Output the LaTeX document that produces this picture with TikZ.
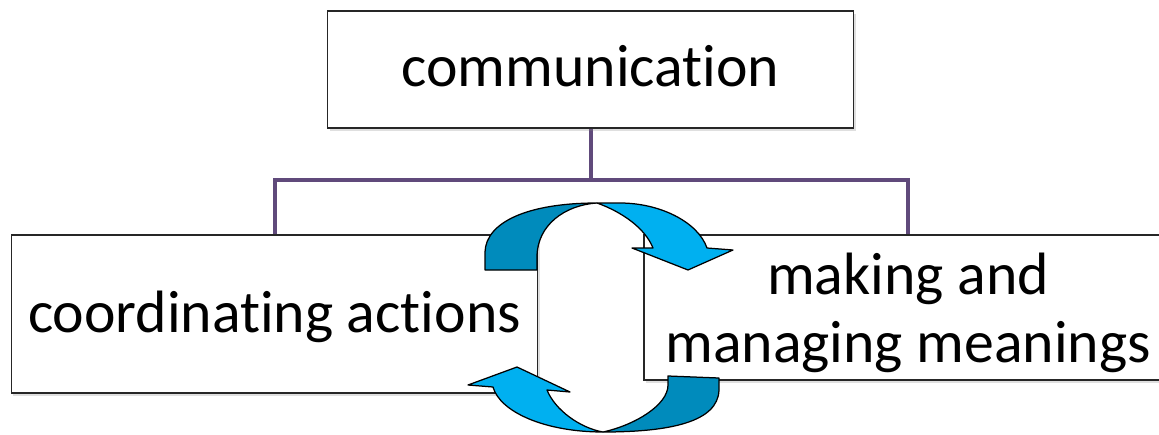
\documentclass[tikz,border=0pt]{standalone}
\usepackage{fontspec}
\setmainfont[Ligatures=NoCommon]{Carlito}
\usepackage{tikz}
\usetikzlibrary{shadows}
\pgfdeclarelayer{edgelayer}
\pgfdeclarelayer{nodelayer}
\pgfsetlayers{edgelayer,nodelayer,main}
\definecolor{linkpurple}{RGB}{96,74,123}
\definecolor{cyclefront}{RGB}{0,176,240}
\definecolor{cycleback}{RGB}{0,139,188}
\tikzstyle{box}=[rectangle, draw=black!85, fill=white, line width=0.3mm, inner sep=0pt, text depth=0pt, font=\fontsize{34}{38.7}\selectfont, drop shadow={shadow xshift=0.4mm, shadow yshift=-0.6mm, opacity=0.25}]
\tikzstyle{link}=[-, draw=linkpurple, line width=0.8mm]
\tikzstyle{backband}=[fill=cycleback, draw=black, line width=0.25mm, line join=round]
\tikzstyle{frontband}=[fill=cyclefront, draw=black, line width=0.25mm, line join=round]

\begin{document}
\begin{tikzpicture}[x=0.2mm, y=-0.2mm]
            \clip (0, 0) rectangle (1159, 435);
            \begin{pgfonlayer}{nodelayer}
                \node [style=box, minimum width=105.2mm, minimum height=23.4mm, text height=6.6mm] (comm) at (590.5, 69.5) {communication};
                \node [style=box, minimum width=105.2mm, minimum height=31.6mm, text height=7.5mm] (coord) at (274.5, 314) {coordinating actions};
                \node [style=box, minimum width=105.6mm, minimum height=29mm, align=center] (mean) at (908, 307.5) {making and\\managing meanings};
                \coordinate (fork) at (590.5, 180);
            \end{pgfonlayer}
            \begin{pgfonlayer}{edgelayer}
                \draw [style=link] (comm.south) -- (fork);
                \draw [style=link] (coord.north) |- (fork) -| (mean.north);
            \end{pgfonlayer}

            % upper loop arrow
            \draw [style=backband] (485, 270) -- (485, 252) .. controls (486, 222) and (528, 203) .. (597, 203)
                .. controls (565, 205) and (537, 225) .. (537, 257) -- (537, 270) -- cycle;
            \draw [style=frontband] (597, 203) -- (620, 203) .. controls (660, 203) and (698, 222) .. (707, 248)
                -- (733, 250) -- (688, 270) -- (632, 248) -- (653, 248)
                .. controls (645, 228) and (622, 212) .. (597, 203) -- cycle;

            % lower loop arrow
            \draw [style=backband] (668, 376) -- (719, 378) -- (719, 390) .. controls (718, 422) and (670, 432) .. (603, 432)
                .. controls (635, 425) and (668, 405) .. (668, 385) -- cycle;
            \draw [style=frontband] (603, 432) .. controls (545, 432) and (500, 412) .. (493, 387)
                -- (468, 385) -- (517, 367) -- (570, 392) -- (547, 390)
                .. controls (555, 410) and (580, 428) .. (603, 432) -- cycle;
\end{tikzpicture}
\end{document}
